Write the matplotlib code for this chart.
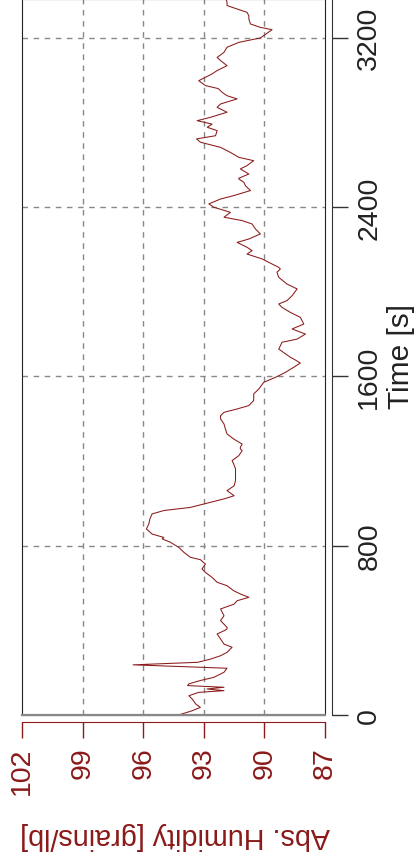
import matplotlib
matplotlib.use("Agg")
import matplotlib.pyplot as plt
from matplotlib.patches import Rectangle

plt.rcParams['font.family'] = ['Liberation Sans', 'DejaVu Sans']

# Time [s] and absolute humidity [grains/lb]
time_s = [0, 20, 36, 52, 76, 91, 107, 115, 123, 131, 139, 147, 163, 178, 202, 221,
          237, 249, 264, 280, 296, 320, 335, 359, 383, 398, 406,
          414, 446, 469, 501, 524, 540, 556, 572, 587, 611, 627, 650, 674, 690,
          713, 734, 745, 769, 792, 816, 832,
          839, 855, 879, 903, 926, 950, 966, 981, 997, 1021, 1036, 1060, 1083,
          1107, 1139, 1163, 1186, 1202, 1225, 1249, 1257,
          1265, 1280, 1304, 1328, 1351, 1375, 1399, 1414, 1430, 1446, 1462, 1486,
          1517, 1540, 1572, 1595, 1619, 1643, 1663, 1682,
          1690, 1729, 1761, 1776, 1800, 1824, 1847, 1879, 1902, 1926, 1942, 1958,
          1981, 2013, 2036, 2068, 2092, 2107,
          2115, 2131, 2155, 2178, 2194, 2210, 2233, 2249, 2273, 2296, 2320, 2336,
          2352, 2375, 2399, 2415, 2438, 2454, 2478, 2501, 2517, 2533,
          2536, 2556, 2580, 2596, 2619, 2635, 2658, 2682, 2706, 2722, 2737, 2761,
          2777, 2792, 2808, 2824, 2848, 2871, 2887, 2911, 2926, 2942, 2958,
          2961, 2974, 2997, 3029, 3045, 3068, 3092, 3107, 3131, 3155, 3178, 3199,
          3238, 3249, 3265, 3288, 3304, 3320, 3336, 3352, 3367, 3383, 3420]
humidity = [94.24, 93.58, 93.17, 93.40, 93.58, 93.74, 93.25, 92.00, 92.84, 92.00, 93.80,
            93.74, 93.17, 92.50, 92.00, 91.85, 96.50, 93.30, 92.67, 92.17, 91.85, 91.60,
            92.00, 92.17, 92.34, 92.00, 91.85,
            91.85, 92.17, 92.00, 92.17, 91.50, 91.35, 90.77, 91.19, 91.52, 91.85, 92.34,
            92.59, 92.92, 93.09, 92.92, 93.17, 93.66, 93.99, 94.24, 94.65, 95.06,
            94.98, 95.56, 95.84, 95.72, 95.67, 95.56, 94.98, 93.66, 93.00, 92.00, 91.50,
            91.85, 91.50, 91.43, 91.43, 91.43, 91.52, 91.60, 91.27, 91.10, 91.19,
            91.19, 91.10, 91.52, 91.85, 91.93, 92.00, 92.17, 92.17, 92.00, 91.35, 90.77,
            90.53, 90.53, 90.28, 90.03, 89.46, 88.96, 88.55, 88.22, 88.55,
            88.71, 89.29, 89.13, 88.38, 87.97, 88.63, 88.05, 88.22, 88.71, 89.13, 89.29,
            88.88, 88.63, 88.38, 88.88, 89.29, 89.38, 89.21,
            89.29, 89.62, 90.12, 90.86, 90.61, 90.86, 91.35, 90.77, 90.20, 90.44, 90.61,
            91.10, 92.00, 91.68, 92.50, 92.75, 92.17, 91.52, 90.69, 90.94, 91.02, 91.27,
            91.27, 90.77, 91.19, 90.86, 90.53, 91.27, 91.68, 92.17, 93.16, 93.36, 92.42,
            92.34, 92.83, 92.59, 93.33, 92.67, 91.85, 92.34, 92.17, 91.35, 91.85, 92.09,
            92.26,
            92.34, 92.92, 93.25, 92.59, 92.34, 91.85, 92.17, 92.34, 92.00, 91.85, 91.27,
            90.20, 89.62, 90.20, 90.69, 90.77, 90.77, 90.86, 91.35, 91.85, 91.85, 91.89,
            91.90]

hum_ticks = [102, 99, 96, 93, 90, 87]
time_ticks = [0, 800, 1600, 2400, 3200]

red = '#8B1A1A'
W, H = 416, 862

fig = plt.figure(figsize=(W / 100, H / 100), dpi=100)
# the chart is drawn turned a quarter turn: humidity across, time upwards
ax = fig.add_axes([22 / W, (H - 716) / H, 303 / W, 716 / H])

ax.plot(humidity, time_s, color=red, lw=0.75)
ax.set_xlim(102, 87)
ax.set_ylim(0, 3383)

# dashed grid
for h in [99, 96, 93, 90]:
    ax.axvline(h, color='#888888', lw=1, ls=(0, (4, 4)), zorder=0)
for t in time_ticks[1:]:
    ax.axhline(t, color='#888888', lw=1, ls=(0, (4, 4)), zorder=0)

# box around the plot
ax.add_patch(Rectangle((0, 0), 1, 1, transform=ax.transAxes, fill=False,
                       ec='#222222', lw=0.8, clip_on=False, zorder=3))
ax.plot([0, 1], [0, 0], transform=ax.transAxes, color='#888888', lw=1.6,
        clip_on=False, zorder=4)

# detached axes
for s in ['top', 'left']:
    ax.spines[s].set_visible(False)
ax.spines['bottom'].set_position(('outward', 5))
ax.spines['bottom'].set_color(red)
ax.spines['right'].set_position(('outward', 5))
ax.spines['right'].set_color('#333333')

ax.set_xticks(hum_ticks)
ax.set_xticklabels([str(v) for v in hum_ticks], rotation=90)
ax.tick_params(axis='x', colors=red, length=11.5, width=1, pad=6, labelsize=20.5)

ax.yaxis.tick_right()
ax.set_yticks(time_ticks)
ax.set_yticklabels([str(v) for v in time_ticks], rotation=90, va='center')
ax.tick_params(axis='y', colors='#333333', length=11.5, width=1, pad=6,
               labelsize=20.5, labelcolor='#222222')

fig.text(401 / W, 1 - 357 / H, 'Time [s]', rotation=90, ha='center', va='center',
         fontsize=21.5, color='#222222')
fig.text(175 / W, 1 - 836 / H, 'Abs. Humidity [grains/lb]', rotation=180,
         ha='center', va='center', fontsize=20.7, color=red)

fig.savefig('out.png', dpi=100)
